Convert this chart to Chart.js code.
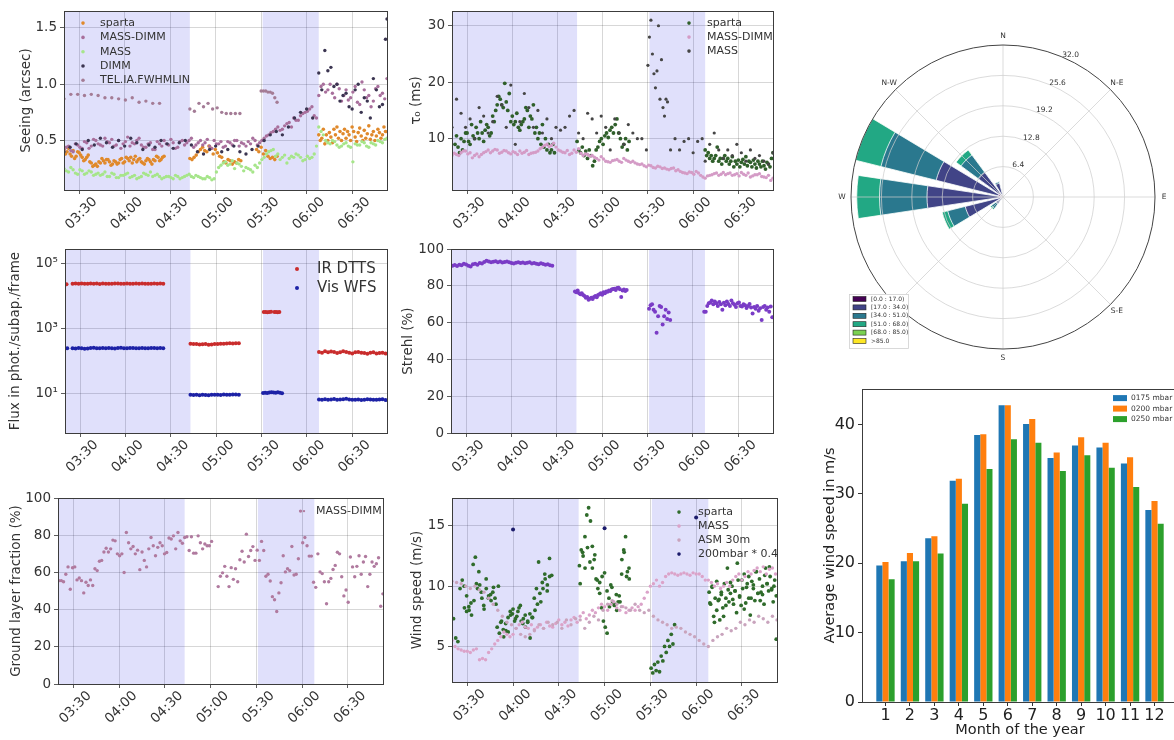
<!DOCTYPE html>
<html lang="en">
<head>
<meta charset="UTF-8">
<title>Observing conditions</title>
<script src="https://cdn.jsdelivr.net/npm/chart.js@4.4.1/dist/chart.umd.min.js"></script>
<style>
  html, body { margin: 0; padding: 0; background: #fff; overflow: hidden; }
  body { width: 1174px; height: 740px; position: relative; }
  canvas { position: absolute; }
</style>
</head>
<body>
<canvas id="seeing" width="392" height="236" style="left:0;top:0"></canvas>
<canvas id="tau" width="383" height="236" style="left:395px;top:0"></canvas>
<canvas id="flux" width="392" height="246" style="left:0;top:238px"></canvas>
<canvas id="strehl" width="383" height="246" style="left:395px;top:238px"></canvas>
<canvas id="glf" width="388" height="253" style="left:0;top:487px"></canvas>
<canvas id="wind" width="387" height="253" style="left:395px;top:487px"></canvas>
<canvas id="rose" width="338" height="338" style="left:836px;top:28px"></canvas>
<canvas id="monthly" width="372" height="364" style="left:810px;top:376px"></canvas>

<script>
// ---- time axis, minutes after 00:00 UT ----
const timeMin = 200, timeMax = 413;
const timeTicks = [210, 240, 270, 300, 330, 360, 390];
const shadeBands = [[200, 283], [331, 368]];

// series are lists of [start minute, step, values]

// seeing (arcsec)
const seeingSparta = [
  [200, 2, [0.42, 0.40, 0.38, 0.41, 0.36, 0.39, 0.35, 0.33, 0.37, 0.30, 0.28, 0.27, 0.30, 0.32, 0.33, 0.31, 0.29, 0.31, 0.30, 0.34, 0.31, 0.34, 0.35, 0.33, 0.31, 0.34, 0.30, 0.32, 0.33, 0.29, 0.32, 0.35, 0.33, 0.36]],
  [201, 2, [0.38, 0.43, 0.36, 0.34, 0.40, 0.37, 0.32, 0.35, 0.31, 0.27, 0.29, 0.31, 0.34, 0.30, 0.33, 0.28, 0.32, 0.29, 0.33, 0.30, 0.35, 0.32, 0.30, 0.36, 0.33, 0.31, 0.29, 0.34, 0.31, 0.33, 0.36, 0.32, 0.35]],
  [283, 1.4, [0.34, 0.33, 0.35, 0.37, 0.40, 0.42, 0.44, 0.41, 0.40, 0.45, 0.43, 0.38, 0.42, 0.39, 0.36, 0.35, 0.31, 0.30, 0.33, 0.32, 0.29, 0.31, 0.30, 0.33, 0.32]],
  [327, 1.5, [0.42, 0.40, 0.44, 0.38, 0.41, 0.36, 0.34, 0.35, 0.33, 0.36]],
  [368, 1, [0.55, 0.50, 0.52, 0.60, 0.47, 0.55, 0.50, 0.57, 0.53, 0.48, 0.60, 0.55, 0.62, 0.52, 0.58, 0.50, 0.56, 0.60, 0.52, 0.58, 0.55, 0.50, 0.62, 0.58, 0.53, 0.49, 0.57, 0.61, 0.54, 0.50, 0.59, 0.52, 0.56, 0.63, 0.51, 0.55, 0.58, 0.50, 0.54, 0.60, 0.57, 0.52, 0.55, 0.62, 0.58]]
];
const seeingMassDimm = [
  [200, 3, [0.42, 0.45, 0.40, 0.46, 0.43, 0.48, 0.45, 0.50, 0.46, 0.52, 0.48, 0.45, 0.50, 0.47, 0.53, 0.48, 0.50, 0.46, 0.44, 0.48, 0.42, 0.47, 0.50, 0.46, 0.48, 0.44, 0.50, 0.48, 0.52, 0.46, 0.50, 0.48, 0.45, 0.50, 0.47, 0.44, 0.49, 0.46, 0.50, 0.48, 0.45, 0.47, 0.50, 0.48, 0.52, 0.55, 0.58, 0.62, 0.60, 0.65, 0.62, 0.68, 0.72, 0.75, 0.78, 0.72, 0.90, 1.00, 0.95, 0.92, 1.00, 0.85, 0.95, 0.88, 0.98, 0.82, 0.95, 0.90, 0.85, 0.98, 0.92, 1.05]],
  [201.5, 3, [0.44, 0.41, 0.47, 0.44, 0.49, 0.43, 0.51, 0.47, 0.45, 0.49, 0.51, 0.46, 0.43, 0.49, 0.45, 0.47, 0.52, 0.44, 0.47, 0.42, 0.49, 0.45, 0.47, 0.51, 0.43, 0.49, 0.46, 0.50, 0.44, 0.48, 0.46, 0.51, 0.43, 0.47, 0.49, 0.45, 0.48, 0.50, 0.45, 0.47, 0.49, 0.52, 0.46, 0.50, 0.54, 0.57, 0.60, 0.59, 0.63, 0.66, 0.70, 0.68, 0.74, 0.76, 0.80, 0.70, 0.98, 0.93, 1.00, 0.88, 0.96, 0.90, 0.86, 0.93, 0.84, 1.02, 0.88, 0.80, 0.96, 0.90, 0.87]]
];
const seeingMass = [
  [200, 3, [0.25, 0.22, 0.24, 0.20, 0.23, 0.21, 0.22, 0.20, 0.19, 0.22, 0.18, 0.20, 0.17, 0.19, 0.21, 0.18, 0.16, 0.18, 0.20, 0.22, 0.19, 0.18, 0.17, 0.18, 0.16, 0.18, 0.17, 0.19, 0.18, 0.19, 0.17, 0.16, 0.17, 0.16, 0.26, 0.30, 0.28, 0.32, 0.30, 0.27, 0.26, 0.24, 0.28, 0.30, 0.35, 0.40, 0.42, 0.38, 0.35, 0.30, 0.36, 0.38, 0.35, 0.33, 0.34, 0.38, 0.62, 0.55, 0.48, 0.50, 0.46, 0.45, 0.48, 0.44, 0.47, 0.46, 0.48, 0.44, 0.47, 0.50, 0.48, 0.52]],
  [201.5, 3, [0.23, 0.26, 0.21, 0.24, 0.20, 0.23, 0.19, 0.21, 0.20, 0.18, 0.21, 0.17, 0.19, 0.20, 0.17, 0.19, 0.17, 0.21, 0.19, 0.18, 0.20, 0.16, 0.18, 0.17, 0.19, 0.16, 0.18, 0.20, 0.17, 0.18, 0.16, 0.18, 0.15, 0.22, 0.28, 0.31, 0.29, 0.25, 0.29, 0.23, 0.25, 0.22, 0.26, 0.33, 0.38, 0.41, 0.36, 0.33, 0.37, 0.34, 0.35, 0.37, 0.32, 0.36, 0.35, 0.45, 0.58, 0.50, 0.47, 0.49, 0.44, 0.47, 0.45, 0.31, 0.46, 0.49, 0.45, 0.48, 0.46, 0.49, 0.51]]
];
const seeingDimm = [
  [200, 4, [0.40, 0.44, 0.47, 0.42, 0.50, 0.46, 0.52, 0.48, 0.44, 0.50, 0.45, 0.52, 0.48, 0.42, 0.46, 0.44, 0.50, 0.47, 0.43, 0.48, 0.50, 0.46, 0.40, 0.38, 0.42, 0.45, 0.40, 0.42, 0.45, 0.40, 0.38, 0.42, 0.45, 0.50, 0.55, 0.58, 0.55, 0.62, 0.70, 0.75, 0.78, 0.70, 1.10, 1.30, 1.15, 1.00, 0.90, 0.80, 0.95, 0.75, 0.85, 1.05, 0.80, 1.40]],
  [370, 4, [0.95, 1.12, 0.98, 0.85, 0.92, 0.78, 1.00, 0.88, 0.70, 0.95, 0.82]],
  [413, 1, [1.58]]
];
const seeingTel = [
  [200, 4.5, [0.87, 0.91, 0.91, 0.90, 0.91, 0.90, 0.88, 0.88, 0.87, 0.86, 0.88, 0.84, 0.85, 0.83, 0.83]],
  [283, 3, [0.78, 0.76, 0.83, 0.80, 0.83, 0.78, 0.79, 0.75, 0.74, 0.74, 0.74, 0.74]],
  [330, 1.5, [0.94, 0.94, 0.94, 0.93, 0.93, 0.92, 0.88, 0.84]]
];

// coherence time tau0 (ms)
const tauSparta = [
  [202, 2, [9, 8.5, 10, 9.5, 11, 9, 10.5, 12, 10, 11, 11.5, 12, 11, 13, 16, 17, 15.5, 16.5, 18, 14, 13, 12, 12.5, 13.5, 15, 14, 16, 12, 11, 12.5, 10, 9, 8, 7.5]],
  [203, 2, [10.5, 7.5, 8, 11, 9.5, 12.5, 10, 11, 13, 9.5, 12.5, 10.5, 14, 15, 17.5, 16, 19.8, 15, 13, 12.5, 14.5, 11.5, 13, 15.5, 12, 13.5, 11, 10, 9, 8.5, 8, 7.5, 9]],
  [283, 1.15, [9.5, 8, 7.5, 8.5, 7, 7.8, 6.5, 8, 7, 5.2, 6, 8, 8.5, 9.5, 10, 9, 10.5, 11, 10.2, 11.5, 12, 11, 12.5, 13.5, 11, 10, 8.5, 9, 10, 8, 9.5]],
  [368, 1, [8, 7, 7.5, 6.5, 7, 6, 6.5, 7, 8.5, 6, 6.5, 5.5, 6.5, 7, 6, 6.5, 5.5, 6, 6.8, 5, 6, 5.5, 6.2, 5, 5.8, 6.3, 5.5, 6.8, 5.2, 6, 5.8, 5, 6.2, 5.5, 4.8, 6, 5.5, 5, 6, 5.2, 4.6, 5.8, 5.5, 5, 6.5, 7.5]]
];
const tauMassDimm = [
  [200, 3, [7.0, 7.2, 7.5, 7.8, 7.5, 7.0, 6.8, 7.5, 8.0, 7.8, 8.0, 7.6, 7.8, 7.3, 7.5, 7.8, 7.6, 7.2, 7.5, 7.8, 8.5, 9.0, 8.8, 8.5, 7.8, 7.5, 7.2, 8.0, 8.2, 7.0, 7.2, 7.0, 6.5, 6.8, 6.0, 5.8, 6.2, 6.0, 6.5, 6.0, 6.0, 5.5, 5.5, 5.0, 5.2, 4.8, 5.0, 4.8, 4.5, 4.8, 4.5, 4.0, 3.8, 4.0, 4.2, 3.5, 3.0, 3.5, 3.8, 3.5, 4.0, 3.8, 3.5, 3.8, 4.0, 3.5, 3.2, 3.6, 3.8, 3.2, 3.5, 3.0]],
  [201.5, 3, [7.4, 7.0, 7.8, 7.3, 6.6, 7.3, 7.2, 7.7, 7.5, 8.1, 7.4, 7.9, 7.5, 7.7, 7.2, 7.4, 7.9, 7.4, 7.6, 8.2, 8.8, 8.6, 9.2, 8.0, 7.6, 7.9, 7.4, 7.6, 7.4, 7.3, 6.9, 6.7, 6.2, 6.4, 5.9, 6.1, 6.3, 5.8, 6.2, 5.8, 5.7, 5.4, 5.2, 5.3, 4.9, 5.1, 4.7, 4.6, 4.7, 4.3, 4.2, 3.9, 4.1, 3.7, 3.9, 3.2, 3.4, 3.6, 3.9, 3.7, 3.6, 3.9, 3.6, 3.4, 3.7, 3.9, 3.4, 3.6, 3.3, 3.1, 2.6]]
];
const tauMass = [
  [200, 3, [12, 17, 14.5, 12, 13.5, 10, 15.5, 14, 11, 13, 17.5, 16, 12, 19.5, 9, 13, 18, 15.5, 12, 15, 11, 13.5, 10, 12, 11.5, 12, 14, 15, 11, 10, 14.5, 13.5, 11, 14, 12, 8, 13.5, 11, 9, 12.5, 11, 10, 10, 8]],
  [330, 1, [23, 28, 31, 25, 21.5, 19, 22, 30, 17, 24, 15.5, 14, 17, 16.5]],
  [345, 3, [8, 10, 8, 9.5, 10, 7.5, 9.5, 10]],
  [368, 3, [6, 9, 11, 8, 6.5, 8, 7, 9, 7.5, 6, 8, 6.5, 7, 6, 5.5, 7.5]]
];

// flux (phot./subap./frame)
const fluxIr = [
  [201, 1, [23000]],
  [205, 2, [24000, 24500, 23800, 24200, 24100, 23900, 24300, 24000, 24400, 23700, 24200, 24000, 24100, 23900, 24300, 24200, 23800, 24000, 24500, 24100, 23900, 24200, 24000, 24300, 23800, 24100, 24000, 24200, 23900, 24300, 24100]],
  [283, 2, [340, 330, 335, 320, 325, 330, 315, 320, 330, 335, 340, 338, 345, 350, 342, 348, 352]],
  [331.5, 1.2, [3200, 3250, 3150, 3200, 3300]],
  [338.5, 1.1, [3200, 3250, 3150, 3220]],
  [368, 2, [190, 180, 200, 185, 195, 190, 175, 185, 200, 190, 180, 170, 185, 190, 180, 175, 165, 180, 185, 170, 175, 180, 170]]
];
const fluxVis = [
  [200, 1.5, [240, 245]],
  [205, 2, [245, 240, 250, 245, 238, 242, 250, 255, 248, 244, 250, 246, 252, 248, 243, 250, 254, 247, 245, 250, 252, 246, 248, 250, 244, 247, 251, 249, 246, 250, 248]],
  [283, 2, [9.0, 8.9, 9.1, 8.8, 9.0, 8.9, 8.8, 9.0, 9.1, 9.0, 8.9, 9.2, 9.1, 9.0, 9.2, 9.3, 9.1]],
  [331, 1.4, [10.2, 10.5, 10.3, 10.6, 10.8, 10.6, 10.5, 10.9, 10.4, 10.0]],
  [368, 2, [6.5, 6.4, 6.6, 6.3, 6.5, 6.7, 6.4, 6.5, 6.6, 6.8, 6.5, 6.4, 6.3, 6.5, 6.2, 6.4, 6.6, 6.5, 6.3, 6.4, 6.5, 6.6, 6.2]]
];

// Strehl (%)
const strehl = [
  [201, 1.5, [91, 91.3, 90.8, 91.5, 91.2, 92, 91.6, 91, 90.5, 91.8, 92, 91.5, 92.4, 92.2, 93, 93.6, 93.2, 92.8, 93.1, 93.4, 92.9, 93.2, 92.7, 93, 93.3, 92.8, 92.5, 92.2, 92.6, 92.9, 92.4, 92.7, 92.3, 92.6, 92.8, 92.2, 92.5, 92.1, 91.8, 92.3, 91.9, 91.5, 91.8, 91.2, 91]],
  [282, 0.9, [77, 76.5, 77.5, 76, 75.5, 76, 75, 74.5, 73.5, 74, 72.5, 73, 73.5, 72.8, 74, 74.5, 73.8, 75, 75.5, 76, 75.2, 76.5, 76, 77, 76.8, 77.5, 77.2, 78, 78.3, 78.5, 77.8, 78.8, 79, 78.2, 74, 77.5, 78, 77.2, 77.8]],
  [331, 1, [67.5, 69.5, 70, 67, 66, 54.5, 63.5, 69, 68.5, 59, 63.5, 67, 62, 65.5, 61.5]],
  [367.5, 1, [66, 66, 69, 70.5, 71, 72, 70, 71.5, 70.5, 69, 71.2, 70, 67, 70.8, 69.5, 71.5, 70.2, 69, 72, 70.5, 69.8, 68.5, 70.5, 71, 69, 68.8, 70, 69.5, 68, 69, 70.2, 68.2, 65, 68.5, 67.5, 69, 66.5, 67.8, 61.5, 68.5, 69, 67, 68.2, 66, 68.8, 63]]
];

// ground layer fraction (%)
const groundLayer = [
  [200.7, 1.47, [55.6, 55.6, 55, 59, 63, 51, 62.5, 63, 56, 57, 55.6, 49, 54.7, 53, 56, 53, 62, 61, 66, 66.5, 71, 73, 71, 72.7, 77.4, 77, 70, 69, 70, 60, 81.5, 76, 72.7, 74, 70, 72, 61.5, 71, 66.5, 63, 72.7, 78.8, 74.4, 69, 73.5, 76, 74.4, 70, 70.7, 78.5, 78, 79.7, 72.7, 81.5, 77, 75.7, 78.8, 79.2, 71.8, 79.2, 70.4, 70.4, 79.7, 76, 72.7, 75.3, 74.4, 74.4, 76.7]],
  [305, 1.42, [52.4, 58, 59.8, 63.3, 58, 52.4, 62.6, 56.3, 62, 55, 66.8, 71.4, 65.6, 80.6, 68.6, 71.8, 73.9, 66.5, 72, 66.5, 76.7, 71.8, 58, 59, 55.4, 47, 45.3, 39, 49, 54.5, 69, 60.3, 62, 61, 74, 58.6, 59, 67.4, 93, 76, 78.8, 74.4, 68.8, 68.8, 54.7, 52, 70, 60.3, 59.4, 55, 43.2, 55, 56.8, 61.6, 63.8, 70.9, 70, 57.7, 47.4, 50.6, 44, 68.3, 63, 57.7, 63.3, 69, 59, 65.6, 68.6, 52.4, 59, 65.6, 63.3, 64.7, 67.9, 41.8, 48.5]]
];

// wind speed (m/s)
const windSparta = [
  [201, 1.43, [7.3, 5.7, 5.4, 9.8, 10.5, 8.2, 7.9, 8.3, 8.6, 11.8, 12.4, 9.8, 10.1, 9.0, 8.1, 9.8, 9.0, 9.3, 9.5, 9.0, 6.6, 6.1, 7.1, 5.8, 6.3, 7.4, 7.9, 7.7, 7.1, 7.5, 8.2, 7.1, 7.3, 6.6, 7.1, 7.7, 7.4, 9.0, 9.8, 12.0, 8.7, 9.8, 10.6, 10.1, 12.3, 10.9]],
  [208, 1.6, [10.0, 9.2, 8.0, 7.6, 8.8, 10.2, 11.2, 9.5, 8.4, 10.6, 9.2, 8.8, 9.9, 8.5, 10.0, 7.0, 6.4, 6.9, 6.2, 7.6, 8.1, 7.3, 7.9, 8.4, 6.9, 7.6, 7.0, 5.7, 7.4, 8.0, 8.5, 9.4, 10.3, 11.0, 9.6, 10.8]],
  [283.5, 1.21, [11.7, 13, 12.5, 14.1, 15.9, 16.5, 15.4, 13.3, 12.2, 10.6, 9.8, 10.3, 8.2, 7.1, 6.6, 6.1, 9, 10.1, 8.7, 8.5, 9.3, 8.7, 8.7, 12.2, 13, 14.1, 11.2, 10.6]],
  [284, 1.6, [10.2, 12.8, 11.5, 13.2, 12.0, 11.5, 12.6, 10.5, 9.4, 10.8, 11.1, 9.6, 8.3, 9.9, 8.4, 8.0, 9.2, 11.0, 12.8, 10.8, 11.5]],
  [330.5, 1.1, [3.2, 2.8, 3.5, 3.0, 3.7, 2.9, 4.2, 3.8, 5.0, 4.5, 5.5, 5.0, 6.0, 5.2, 6.8]],
  [368.5, 1, [9.5, 8.5, 10, 7.5, 9, 8, 8.8, 7.2, 9.5, 8.2, 10.2, 9, 11.5, 8.7, 9.4, 10, 8.5, 9.6, 7.8, 10.5, 9.2, 8.4, 9.8, 11, 8.6, 10.2, 9, 7.6, 10.4, 9.8, 8.8, 11.2, 9.4, 10.6, 9.5, 10, 8.5, 11.5, 10.2, 9.6, 10.8, 9.8, 8.7, 10.5, 5.6]],
  [369, 1.5, [8.6, 9.9, 7.0, 10.4, 8.9, 9.3, 7.5, 8.4, 9.7, 10.3, 8.9, 9.6, 11.9, 9.1, 10.5, 8.1, 9.9, 10.8, 9.0, 10.1, 11.2, 9.4, 8.8, 9.3, 10.9, 10.2, 11.6, 9.7, 10.0, 9.2]]
];
const windMass = [
  [200, 2, [5.5, 5.0, 4.8, 4.7, 4.6, 4.6, 4.5, 4.7, 4.8, 3.9, 4.0, 3.9, 4.5, 4.8, 5.2, 5.5, 5.8, 6.2, 6.0, 5.8, 6.0, 6.5, 6.8, 7.0, 6.6, 6.5, 6.8, 6.4, 6.6, 6.8, 6.5, 7.0, 6.7, 6.6, 6.9, 7.2, 6.8, 7.0, 6.7, 7.2, 7.4, 7.0, 7.5, 7.8, 7.3, 7.6, 8.0, 7.8, 8.2, 8.5, 8.3, 8.0, 8.5, 8.7, 8.2, 8.0, 8.3, 7.8, 8.0, 8.2, 8.0, 8.3, 8.5, 9.0, 9.5, 10.0, 10.2, 10.5, 10.0, 10.3, 10.8, 11.0, 11.1, 11.0, 10.9, 11.0, 11.1, 11.0, 10.9, 11.1, 11.0, 11.0, 10.8, 10.5, 10.5, 10.3, 10.0, 10.2, 9.8, 10.0, 10.3, 10.0, 10.5, 10.8, 11.0, 10.5, 10.8, 11.2, 11.0, 11.3, 11.5, 11.2, 11.6, 11.0, 11.4, 11.5, 11.0]]
];
const windAsm = [
  [200, 3, [10.4, 10.3, 10.2, 10.0, 9.8, 10.0, 9.7, 9.5, 9.0, 8.5, 8.0, 7.5, 7.0, 6.8, 6.5, 6.0, 5.8, 6.0, 6.3, 6.8, 6.5, 7.0, 6.8, 7.0, 6.5, 7.2, 6.8, 7.3, 7.2, 6.5, 7.0, 7.5, 7.2, 8.0, 8.5, 8.8, 8.5, 8.3, 8.2, 8.0, 8.5, 8.0, 7.8, 8.0, 7.5, 7.2, 7.0, 6.8, 6.5, 6.6, 6.5, 6.2, 6.0, 5.8, 5.5, 5.2, 5.0, 5.5, 5.8, 6.0, 6.5, 6.3, 6.5, 7.0, 6.8, 7.2, 7.0, 7.5, 7.3, 7.0, 7.5, 7.2]]
];
const windJet = [[240, 60, [14.7, 14.8, 15.7]]];

// wind rose: 16 directions clockwise from N, one array per speed bin (% of time)
const roseDirs = ['N', 'NNE', 'NE', 'ENE', 'E', 'ESE', 'SE', 'SSE', 'S', 'SSW', 'SW', 'WSW', 'W', 'WNW', 'NW', 'NNW'];
const roseBin0 = [0, 0, 0, 0, 0, 0, 0, 0, 0, 0, 0.2, 0.5, 1.0, 1.0, 0.5, 0.3];
const roseBin1 = [0, 0, 0, 0, 0, 0, 0, 0, 0, 0, 1.6, 7.7, 15.0, 13.5, 6.0, 2.7];
const roseBin2 = [0, 0, 0, 0, 0, 0, 0, 0, 0, 0, 1.2, 3.8, 10.0, 12.0, 4.5, 0.3];
const roseBin3 = [0, 0, 0, 0, 0, 0, 0, 0, 0, 0, 0.3, 1.2, 4.8, 5.5, 1.3, 0];
const roseBin4 = [0, 0, 0, 0, 0, 0, 0, 0, 0, 0, 0, 0, 0, 0, 0, 0];
const roseBin5 = [0, 0, 0, 0, 0, 0, 0, 0, 0, 0, 0, 0, 0, 0, 0, 0];
const roseBinLabels = ['[0.0 : 17.0)', '[17.0 : 34.0)', '[34.0 : 51.0)', '[51.0 : 68.0)', '[68.0 : 85.0)', '>85.0'];
const roseRings = [6.4, 12.8, 19.2, 25.6, 32.0];
const compassLabels = ['N', 'N-E', 'E', 'S-E', 'S', 'S-W', 'W', 'N-W'];

// monthly average wind speed (m/s)
const months = [1, 2, 3, 4, 5, 6, 7, 8, 9, 10, 11, 12];
const bar175 = [19.7, 20.3, 23.6, 31.9, 38.5, 42.8, 40.1, 35.2, 37.0, 36.7, 34.4, 27.7];
const bar200 = [20.2, 21.5, 23.9, 32.2, 38.6, 42.8, 40.8, 36.0, 38.2, 37.4, 35.3, 29.0];
const bar250 = [17.7, 20.3, 21.4, 28.6, 33.6, 37.9, 37.4, 33.3, 35.6, 33.8, 31.0, 25.7];

Chart.defaults.font.family = "'DejaVu Sans', sans-serif";
Chart.defaults.color = '#333';

const FONT = "'DejaVu Sans', sans-serif";

function points(segs) {
  const out = [];
  segs.forEach(([t0, dt, vals]) => vals.forEach((v, i) => out.push({x: t0 + i * dt, y: v})));
  return out;
}

function hhmm(v) {
  return String(Math.floor(v / 60)).padStart(2, '0') + ':' + String(v % 60).padStart(2, '0');
}

// shading, frame and in-plot legend for the time panels
function deco(cfg) {
  return {
    id: 'deco',
    beforeDatasetsDraw(chart) {
      const {ctx, chartArea: a} = chart;
      const x = chart.scales.x;
      ctx.save();
      ctx.fillStyle = 'rgba(0,0,220,0.12)';
      cfg.bands.forEach(([t0, t1]) => {
        const x0 = Math.max(a.left, x.getPixelForValue(t0));
        const x1 = Math.min(a.right, x.getPixelForValue(t1));
        ctx.fillRect(x0, a.top, x1 - x0, a.bottom - a.top);
      });
      ctx.restore();
    },
    afterDraw(chart) {
      const {ctx, chartArea: a} = chart;
      ctx.save();
      ctx.strokeStyle = '#3c3c3c';
      ctx.lineWidth = 1;
      ctx.strokeRect(Math.round(a.left) + 0.5, Math.round(a.top) + 0.5, Math.round(a.right - a.left), Math.round(a.bottom - a.top));
      const lg = cfg.legend;
      if (lg) {
        ctx.font = lg.size + 'px ' + FONT;
        ctx.textBaseline = 'middle';
        lg.items.forEach(([label, color], i) => {
          const y = a.top + lg.y + i * lg.dy;
          ctx.fillStyle = color;
          ctx.beginPath();
          ctx.arc(a.left + lg.x, y, lg.r, 0, Math.PI * 2);
          ctx.fill();
          ctx.fillStyle = '#333';
          ctx.fillText(label, a.left + lg.tx, y);
        });
      }
      ctx.restore();
    }
  };
}

function timeChart(id, o) {
  const cv = document.getElementById(id);
  const L = cv.offsetLeft, T = cv.offsetTop;
  const [pl, pt, pr, pb] = o.plot;
  const padL = o.titleX - L - 12.1;
  const yW = pl - L - padL;
  const xH = T + cv.height - pb;
  const n = o.series.length;
  const grid = () => ({color: 'rgba(0,0,0,0.2)', lineWidth: 0.8, tickColor: '#333', tickLength: 4});
  return new Chart(cv, {
    type: 'scatter',
    data: {
      datasets: o.series.map((s, i) => ({
        label: s.label,
        data: points(s.segs),
        order: n - i,
        backgroundColor: s.color,
        pointRadius: s.r || 1.8,
        pointBorderWidth: 0,
        pointHoverRadius: 0
      }))
    },
    options: {
      responsive: false,
      animation: false,
      events: [],
      layout: {padding: {left: padL, top: pt - T, right: L + cv.width - pr, bottom: 0}},
      scales: {
        x: {
          type: 'linear', min: timeMin, max: timeMax,
          afterBuildTicks: s => { s.ticks = timeTicks.map(v => ({value: v})); },
          afterFit: s => { s.height = xH; },
          ticks: {autoSkip: false, minRotation: 45, maxRotation: 45, padding: 0, labelOffset: 16, font: {size: 13.5}, color: '#333', callback: v => hhmm(v)},
          grid: grid(),
          border: {display: false}
        },
        y: {
          type: o.log ? 'logarithmic' : 'linear', min: o.yMin, max: o.yMax,
          afterBuildTicks: s => { s.ticks = o.yTicks.map(v => ({value: v})); },
          afterFit: s => { s.width = yW; },
          ticks: {font: {size: 13.5}, color: '#333', padding: 3, callback: o.yFmt || (v => String(v))},
          grid: grid(),
          border: {display: false},
          title: {display: true, text: o.yTitle, font: {size: 13.5}, color: '#333', padding: {top: 4, bottom: 4}}
        }
      },
      plugins: {legend: {display: false}, tooltip: {enabled: false}}
    },
    plugins: [deco({
      bands: shadeBands,
      legend: o.legend ? Object.assign({}, o.legend, {items: o.series.map(s => [s.label, s.color])}) : null
    })]
  });
}

timeChart('seeing', {
  plot: [64, 4, 387, 190], titleX: 26,
  yTitle: 'Seeing (arcsec)', yMin: 0.06, yMax: 1.65, yTicks: [0.5, 1.0, 1.5], yFmt: v => v.toFixed(1),
  legend: {x: 19, tx: 36, y: 12, dy: 14.3, r: 1.8, size: 11},
  series: [
    {label: 'sparta', color: '#e0892b', segs: seeingSparta},
    {label: 'MASS-DIMM', color: '#a86f9c', segs: seeingMassDimm, r: 1.7},
    {label: 'MASS', color: '#a6e58a', segs: seeingMass, r: 1.7},
    {label: 'DIMM', color: '#3b3551', segs: seeingDimm, r: 1.7},
    {label: 'TEL.IA.FWHMLIN', color: '#a47c96', segs: seeingTel, r: 1.7}
  ]
});

timeChart('tau', {
  plot: [452, 4, 773, 190], titleX: 416,
  yTitle: 'τ₀ (ms)', yMin: 0.9, yMax: 32.6, yTicks: [10, 20, 30],
  legend: {x: 237, tx: 255, y: 12, dy: 14, r: 1.8, size: 11},
  series: [
    {label: 'sparta', color: '#2f5f2a', segs: tauSparta, r: 1.9},
    {label: 'MASS-DIMM', color: '#d49bc6', segs: tauMassDimm, r: 1.7},
    {label: 'MASS', color: '#454545', segs: tauMass, r: 1.6}
  ]
});

timeChart('flux', {
  plot: [65, 244, 387, 433], titleX: 15,
  yTitle: 'Flux in phot./subap./frame', log: true, yMin: 0.64, yMax: 280000, yTicks: [10, 1000, 100000],
  yFmt: v => ({10: '10¹', 1000: '10³', 100000: '10⁵'})[v],
  legend: {x: 232, tx: 252, y: 20, dy: 19, r: 2, size: 15},
  series: [
    {label: 'IR DTTS', color: '#c92c2c', segs: fluxIr, r: 2},
    {label: 'Vis WFS', color: '#1d22a6', segs: fluxVis, r: 2}
  ]
});

timeChart('strehl', {
  plot: [451, 246, 773, 433], titleX: 408,
  yTitle: 'Strehl (%)', yMin: 0, yMax: 100, yTicks: [0, 20, 40, 60, 80, 100],
  series: [
    {label: 'Strehl', color: '#7a3cc6', segs: strehl, r: 2}
  ]
});

timeChart('glf', {
  plot: [58, 495, 383, 684], titleX: 16,
  yTitle: 'Ground layer fraction (%)', yMin: 0, yMax: 100, yTicks: [0, 20, 40, 60, 80, 100],
  legend: {x: 246, tx: 258, y: 13, dy: 14, r: 1.2, size: 11},
  series: [
    {label: 'MASS-DIMM', color: '#b07a9f', segs: groundLayer, r: 1.7}
  ]
});

timeChart('wind', {
  plot: [452, 492, 777, 682], titleX: 417,
  yTitle: 'Wind speed (m/s)', yMin: 2.05, yMax: 17.3, yTicks: [5, 10, 15],
  legend: {x: 227, tx: 246, y: 14, dy: 14, r: 1.8, size: 11},
  series: [
    {label: 'sparta', color: '#2f6b2b', segs: windSparta, r: 1.9},
    {label: 'MASS', color: '#dba3c9', segs: windMass, r: 1.7},
    {label: 'ASM 30m', color: '#c9a4bd', segs: windAsm, r: 1.7},
    {label: '200mbar * 0.4', color: '#1b1b6b', segs: windJet, r: 2}
  ]
});

// ---- wind rose ----
const roseColors = ['#440154', '#414487', '#2a788e', '#22a884', '#7ad151', '#fde725'];
const sectorDeg = 17, gapDeg = 22.5 - 17;
const roseBins = [roseBin0, roseBin1, roseBin2, roseBin3, roseBin4, roseBin5];
const roseCum = roseBins.map((_, b) => roseDirs.map((d, i) => roseBins.slice(0, b + 1).reduce((s, arr) => s + arr[i], 0)));
const roseLabels = roseDirs.flatMap(d => [d, '']);

const roseDeco = {
  id: 'roseDeco',
  afterDatasetsDraw(chart) {
    const {ctx} = chart;
    const s = chart.scales.r;
    const cx = s.xCenter, cy = s.yCenter, R = s.drawingArea;
    ctx.save();
    ctx.strokeStyle = 'rgba(205,205,205,0.9)';
    ctx.lineWidth = 0.8;
    roseRings.slice(0, -1).forEach(v => {
      ctx.beginPath();
      ctx.arc(cx, cy, s.getDistanceFromCenterForValue(v), 0, Math.PI * 2);
      ctx.stroke();
    });
    for (let k = 0; k < 8; k++) {
      const a = k * Math.PI / 4;
      ctx.beginPath();
      ctx.moveTo(cx, cy);
      ctx.lineTo(cx + R * Math.sin(a), cy - R * Math.cos(a));
      ctx.stroke();
    }
    ctx.strokeStyle = '#444';
    ctx.lineWidth = 1;
    ctx.beginPath();
    ctx.arc(cx, cy, R, 0, Math.PI * 2);
    ctx.stroke();

    ctx.fillStyle = '#333';
    ctx.font = '7.5px ' + FONT;
    ctx.textAlign = 'center';
    ctx.textBaseline = 'middle';
    compassLabels.forEach((lab, k) => {
      const a = k * Math.PI / 4;
      ctx.fillText(lab, cx + (R + 9) * Math.sin(a), cy - (R + 9) * Math.cos(a));
    });
    const la = 25.5 * Math.PI / 180;
    roseRings.forEach(v => {
      const d = s.getDistanceFromCenterForValue(v) + 5;
      ctx.fillText(v.toFixed(1), cx + d * Math.sin(la), cy - d * Math.cos(la));
    });

    // legend box, lower left
    const bx = 13, by = 266, bw = 59, bh = 54;
    ctx.fillStyle = '#fff';
    ctx.fillRect(bx, by, bw, bh);
    ctx.strokeStyle = '#d0d0d0';
    ctx.lineWidth = 0.8;
    ctx.strokeRect(bx + 0.5, by + 0.5, bw, bh);
    ctx.font = '6px ' + FONT;
    ctx.textAlign = 'left';
    roseBinLabels.forEach((lab, i) => {
      const y = by + 5 + i * 8.4;
      ctx.fillStyle = roseColors[i];
      ctx.fillRect(bx + 4, y - 2.5, 13, 5);
      ctx.strokeStyle = '#222';
      ctx.lineWidth = 0.6;
      ctx.strokeRect(bx + 4, y - 2.5, 13, 5);
      ctx.fillStyle = '#333';
      ctx.fillText(lab, bx + 22, y);
    });
    ctx.restore();
  }
};

new Chart(document.getElementById('rose'), {
  type: 'polarArea',
  data: {
    labels: roseLabels,
    datasets: roseCum.map((cum, b) => ({
      label: roseBinLabels[b],
      data: cum.flatMap(v => [v, 0]),
      backgroundColor: roseColors[b],
      borderColor: '#fff',
      borderWidth: c => (c.dataIndex % 2 ? 0 : 0.8),
      angle: c => (c.dataIndex % 2 ? gapDeg : sectorDeg)
    }))
  },
  options: {
    responsive: false,
    animation: false,
    events: [],
    layout: {padding: {left: 15, top: 17, right: 19, bottom: 17}},
    scales: {
      r: {
        min: 0, max: 32,
        startAngle: -sectorDeg / 2,
        grid: {display: false},
        angleLines: {display: false},
        ticks: {display: false},
        pointLabels: {display: false}
      }
    },
    plugins: {legend: {display: false}, tooltip: {enabled: false}}
  },
  plugins: [roseDeco]
});

// ---- monthly bars ----
const barDeco = {
  id: 'barDeco',
  afterDraw(chart) {
    const {ctx, chartArea: a} = chart;
    ctx.save();
    ctx.strokeStyle = '#3c3c3c';
    ctx.lineWidth = 1;
    ctx.strokeRect(Math.round(a.left) + 0.5, Math.round(a.top) + 0.5, Math.round(a.right - a.left), Math.round(a.bottom - a.top));
    ctx.font = '7.5px ' + FONT;
    ctx.textBaseline = 'middle';
    chart.data.datasets.forEach((ds, i) => {
      const y = a.top + 9.5 + i * 10.5;
      ctx.fillStyle = ds.backgroundColor;
      ctx.fillRect(a.left + 251, y - 3, 14, 6);
      ctx.fillStyle = '#333';
      ctx.fillText(ds.label, a.left + 269, y);
    });
    ctx.restore();
  }
};

new Chart(document.getElementById('monthly'), {
  type: 'bar',
  data: {
    datasets: [
      {label: '0175 mbar', data: months.map((m, i) => ({x: m, y: bar175[i]})), backgroundColor: '#1f77b4'},
      {label: '0200 mbar', data: months.map((m, i) => ({x: m, y: bar200[i]})), backgroundColor: '#ff7f0e'},
      {label: '0250 mbar', data: months.map((m, i) => ({x: m, y: bar250[i]})), backgroundColor: '#2ca02c'}
    ]
  },
  options: {
    responsive: false,
    animation: false,
    events: [],
    datasets: {bar: {categoryPercentage: 0.75, barPercentage: 1.0, borderWidth: 0}},
    layout: {padding: {left: 8, top: 5, right: 4, bottom: 0}},
    scales: {
      x: {
        type: 'linear', min: 0.04, max: 12.96, offset: false,
        afterBuildTicks: s => { s.ticks = months.map(v => ({value: v})); },
        afterFit: s => { s.height = 38; },
        ticks: {autoSkip: false, maxRotation: 0, minRotation: 0, font: {size: 16}, color: '#222', padding: 0},
        grid: {offset: false, drawOnChartArea: false, tickColor: '#333', tickLength: 4},
        border: {display: false},
        title: {display: true, text: 'Month of the year', font: {size: 14.5}, color: '#222', padding: {top: 0, bottom: 1}}
      },
      y: {
        min: 0, max: 45.2,
        afterBuildTicks: s => { s.ticks = [0, 10, 20, 30, 40].map(v => ({value: v})); },
        afterFit: s => { s.width = 44; },
        ticks: {font: {size: 16}, color: '#222', padding: 3},
        grid: {drawOnChartArea: false, tickColor: '#333', tickLength: 4},
        border: {display: false},
        title: {display: true, text: 'Average wind speed in m/s', font: {size: 14.5}, color: '#222', padding: {top: 4, bottom: 4}}
      }
    },
    plugins: {legend: {display: false}, tooltip: {enabled: false}}
  },
  plugins: [barDeco]
});
</script>
</body>
</html>
